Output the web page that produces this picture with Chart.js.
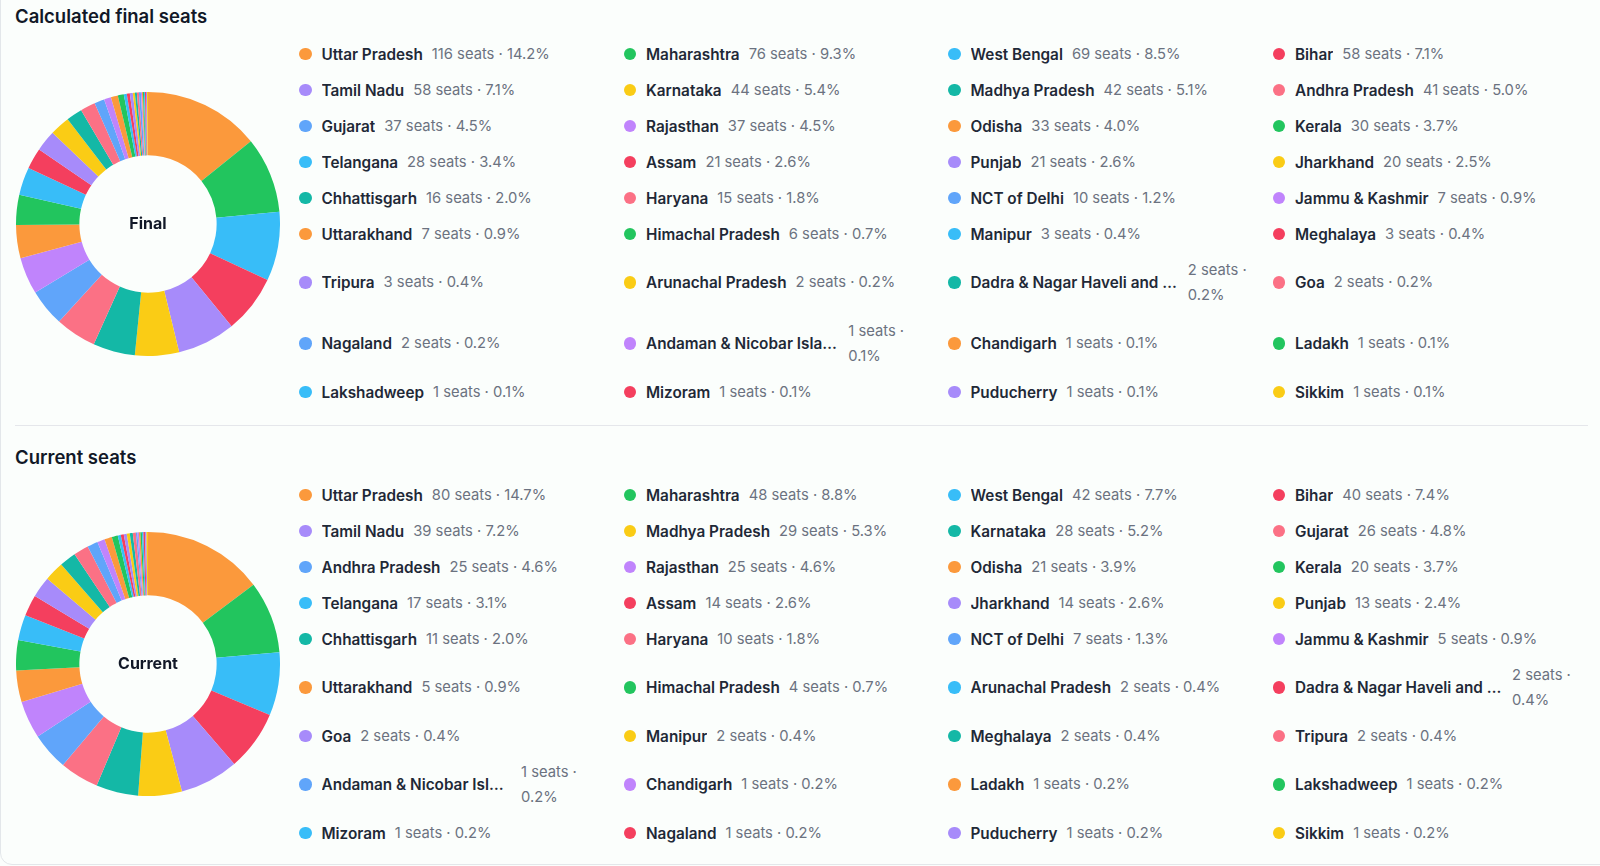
<!DOCTYPE html>
<html>
<head>
<meta charset="utf-8">
<script src="https://cdn.jsdelivr.net/npm/chart.js@4.4.1/dist/chart.umd.min.js"></script>
<style>
  html, body { margin: 0; padding: 0; }
  body { width: 1600px; height: 866px; background: #fbfefc; font-family: Inter, "Noto Sans", sans-serif; position: relative; overflow: hidden; }
  #card { position: absolute; left: 0; top: -20px; width: 1640px; height: 885px; border: 1px solid #e3e7ea; border-radius: 12px; box-sizing: border-box; }
  .title { position: absolute; left: 15px; font-size: 18.5px; font-weight: 600; line-height: 24px; color: #111827; white-space: nowrap; }
  .donut { position: absolute; left: 16px; width: 264px; height: 264px; }
  .legendBox { position: absolute; left: 299px; width: 1286px; height: 420px; display: flex; align-items: center; }
  .legend { width: 100%; display: grid; grid-template-columns: repeat(4, 1fr); column-gap: 12px; row-gap: 11px; }
  .item { display: flex; align-items: center; min-width: 0; height: auto; }
  .dot { width: 12.5px; height: 12.5px; border-radius: 50%; flex-shrink: 0; margin-right: 10px; }
  .name { display: block; font-size: 15.3px; font-weight: 600; color: #1f2937; white-space: nowrap; overflow: hidden; text-overflow: ellipsis; margin-right: 9px; line-height: 25px; height: 25px; }
  .value { display: block; font-size: 14.75px; color: #6b7280; line-height: 25px; }
  .sep { position: absolute; left: 15px; width: 1573px; top: 425px; height: 0; border-top: 1px solid #e5e7eb; }
</style>
</head>
<body>
<div id="card"></div>
<div class="title" style="top:3.5px">Calculated final seats</div>
<div class="donut" style="top:91.8px"><canvas id="finalChart"></canvas></div>
<div class="legendBox" style="top:13px"><div class="legend" id="finalLegend"></div></div>
<div class="sep"></div>
<div class="title" style="top:444.8px">Current seats</div>
<div class="donut" style="top:532.2px"><canvas id="currentChart"></canvas></div>
<div class="legendBox" style="top:454px"><div class="legend" id="currentLegend"></div></div>
<script>
const palette = ['#fb993c', '#22c55e', '#38bdf8', '#f43f5e', '#a78bfa', '#facc15', '#14b8a6', '#fb7185', '#60a5fa', '#c084fc'];

const finalStates = ['Uttar Pradesh', 'Maharashtra', 'West Bengal', 'Bihar', 'Tamil Nadu', 'Karnataka', 'Madhya Pradesh', 'Andhra Pradesh', 'Gujarat', 'Rajasthan', 'Odisha', 'Kerala', 'Telangana', 'Assam', 'Punjab', 'Jharkhand', 'Chhattisgarh', 'Haryana', 'NCT of Delhi', 'Jammu & Kashmir', 'Uttarakhand', 'Himachal Pradesh', 'Manipur', 'Meghalaya', 'Tripura', 'Arunachal Pradesh', 'Dadra & Nagar Haveli and Daman & Diu', 'Goa', 'Nagaland', 'Andaman & Nicobar Islands', 'Chandigarh', 'Ladakh', 'Lakshadweep', 'Mizoram', 'Puducherry', 'Sikkim'];
const finalSeats = [116, 76, 69, 58, 58, 44, 42, 41, 37, 37, 33, 30, 28, 21, 21, 20, 16, 15, 10, 7, 7, 6, 3, 3, 3, 2, 2, 2, 2, 1, 1, 1, 1, 1, 1, 1];

const currentStates = ['Uttar Pradesh', 'Maharashtra', 'West Bengal', 'Bihar', 'Tamil Nadu', 'Madhya Pradesh', 'Karnataka', 'Gujarat', 'Andhra Pradesh', 'Rajasthan', 'Odisha', 'Kerala', 'Telangana', 'Assam', 'Jharkhand', 'Punjab', 'Chhattisgarh', 'Haryana', 'NCT of Delhi', 'Jammu & Kashmir', 'Uttarakhand', 'Himachal Pradesh', 'Arunachal Pradesh', 'Dadra & Nagar Haveli and Daman & Diu', 'Goa', 'Manipur', 'Meghalaya', 'Tripura', 'Andaman & Nicobar Islands', 'Chandigarh', 'Ladakh', 'Lakshadweep', 'Mizoram', 'Nagaland', 'Puducherry', 'Sikkim'];
const currentSeats = [80, 48, 42, 40, 39, 29, 28, 26, 25, 25, 21, 20, 17, 14, 14, 13, 11, 10, 7, 5, 5, 4, 2, 2, 2, 2, 2, 2, 1, 1, 1, 1, 1, 1, 1, 1];

const centerText = {
  id: 'centerText',
  afterDraw(chart, args, opts) {
    const arc = chart.getDatasetMeta(0).data[0];
    if (!arc) return;
    const ctx = chart.ctx;
    ctx.save();
    ctx.font = '700 16px Inter, "Noto Sans", sans-serif';
    ctx.fillStyle = '#111827';
    ctx.textAlign = 'center';
    ctx.textBaseline = 'middle';
    ctx.fillText(opts.text, arc.x, arc.y);
    ctx.restore();
  }
};

function colorsFor(n) { return Array.from({ length: n }, (_, i) => palette[i % palette.length]); }

function makeDonut(id, labels, values, label) {
  new Chart(document.getElementById(id), {
    type: 'doughnut',
    data: { labels: labels, datasets: [{ data: values, backgroundColor: colorsFor(values.length), borderWidth: 0, hoverOffset: 0 }] },
    options: {
      responsive: true, maintainAspectRatio: false, animation: false, cutout: '52%',
      layout: { padding: 0 },
      plugins: { legend: { display: false }, tooltip: { enabled: false }, centerText: { text: label } }
    },
    plugins: [centerText]
  });
}

function makeLegend(id, labels, values) {
  const total = values.reduce((a, b) => a + b, 0);
  const cols = colorsFor(values.length);
  const box = document.getElementById(id);
  labels.forEach((name, i) => {
    const item = document.createElement('div'); item.className = 'item';
    const dot = document.createElement('span'); dot.className = 'dot'; dot.style.background = cols[i];
    const nm = document.createElement('span'); nm.className = 'name'; nm.textContent = name;
    const val = document.createElement('span'); val.className = 'value';
    val.textContent = values[i] + ' seats \u00b7 ' + (values[i] / total * 100).toFixed(1) + '%';
    item.append(dot, nm, val); box.appendChild(item);
  });
}

makeLegend('finalLegend', finalStates, finalSeats);
makeLegend('currentLegend', currentStates, currentSeats);
makeDonut('finalChart', finalStates, finalSeats, 'Final');
makeDonut('currentChart', currentStates, currentSeats, 'Current');
</script>
</body>
</html>
